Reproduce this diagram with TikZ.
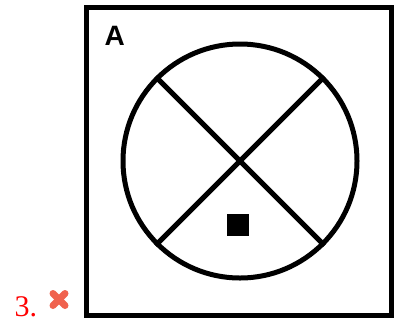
\documentclass[tikz,border=0pt]{standalone}
\usepackage{fontspec}
\setmainfont{Liberation Serif}
\setsansfont{Liberation Sans}
\usetikzlibrary{positioning}
\definecolor{crossred}{RGB}{240,98,78}

\begin{document}
\begin{tikzpicture}[x=1pt,y=-1pt,line width=5pt,
        frame/.style={draw,line width=5pt},
        mark label/.style={inner sep=0pt,anchor=base west}]
        \useasboundingbox (0,0) rectangle (396,322);
        \draw[frame] (86.5,7.5) rectangle (391.5,315);
        \node[draw,circle,minimum size=234pt,inner sep=0pt] (disk) at (240,161) {};
        \draw (disk.north west) -- (disk.south east);
        \draw (disk.north east) -- (disk.south west);
        \node[fill,minimum size=22pt,inner sep=0pt] (dot) at (238,225) {};
        \node[mark label,font=\sffamily\bfseries\fontsize{28}{28}\selectfont] (lbl) at (102,45.5) {A};
        \node[mark label,text=red,font=\fontsize{30}{30}\selectfont] (num) at (12,316) {3.};
        % the little red cross beside the number
        \coordinate (xc) at (59,299.5);
        \draw[crossred,line width=7pt,line cap=round] ([shift={(-6,-6)}]xc) -- ([shift={(6,6)}]xc);
        \draw[crossred,line width=7pt,line cap=round] ([shift={(6,-6)}]xc) -- ([shift={(-6,6)}]xc);
    \end{tikzpicture}
\end{document}
